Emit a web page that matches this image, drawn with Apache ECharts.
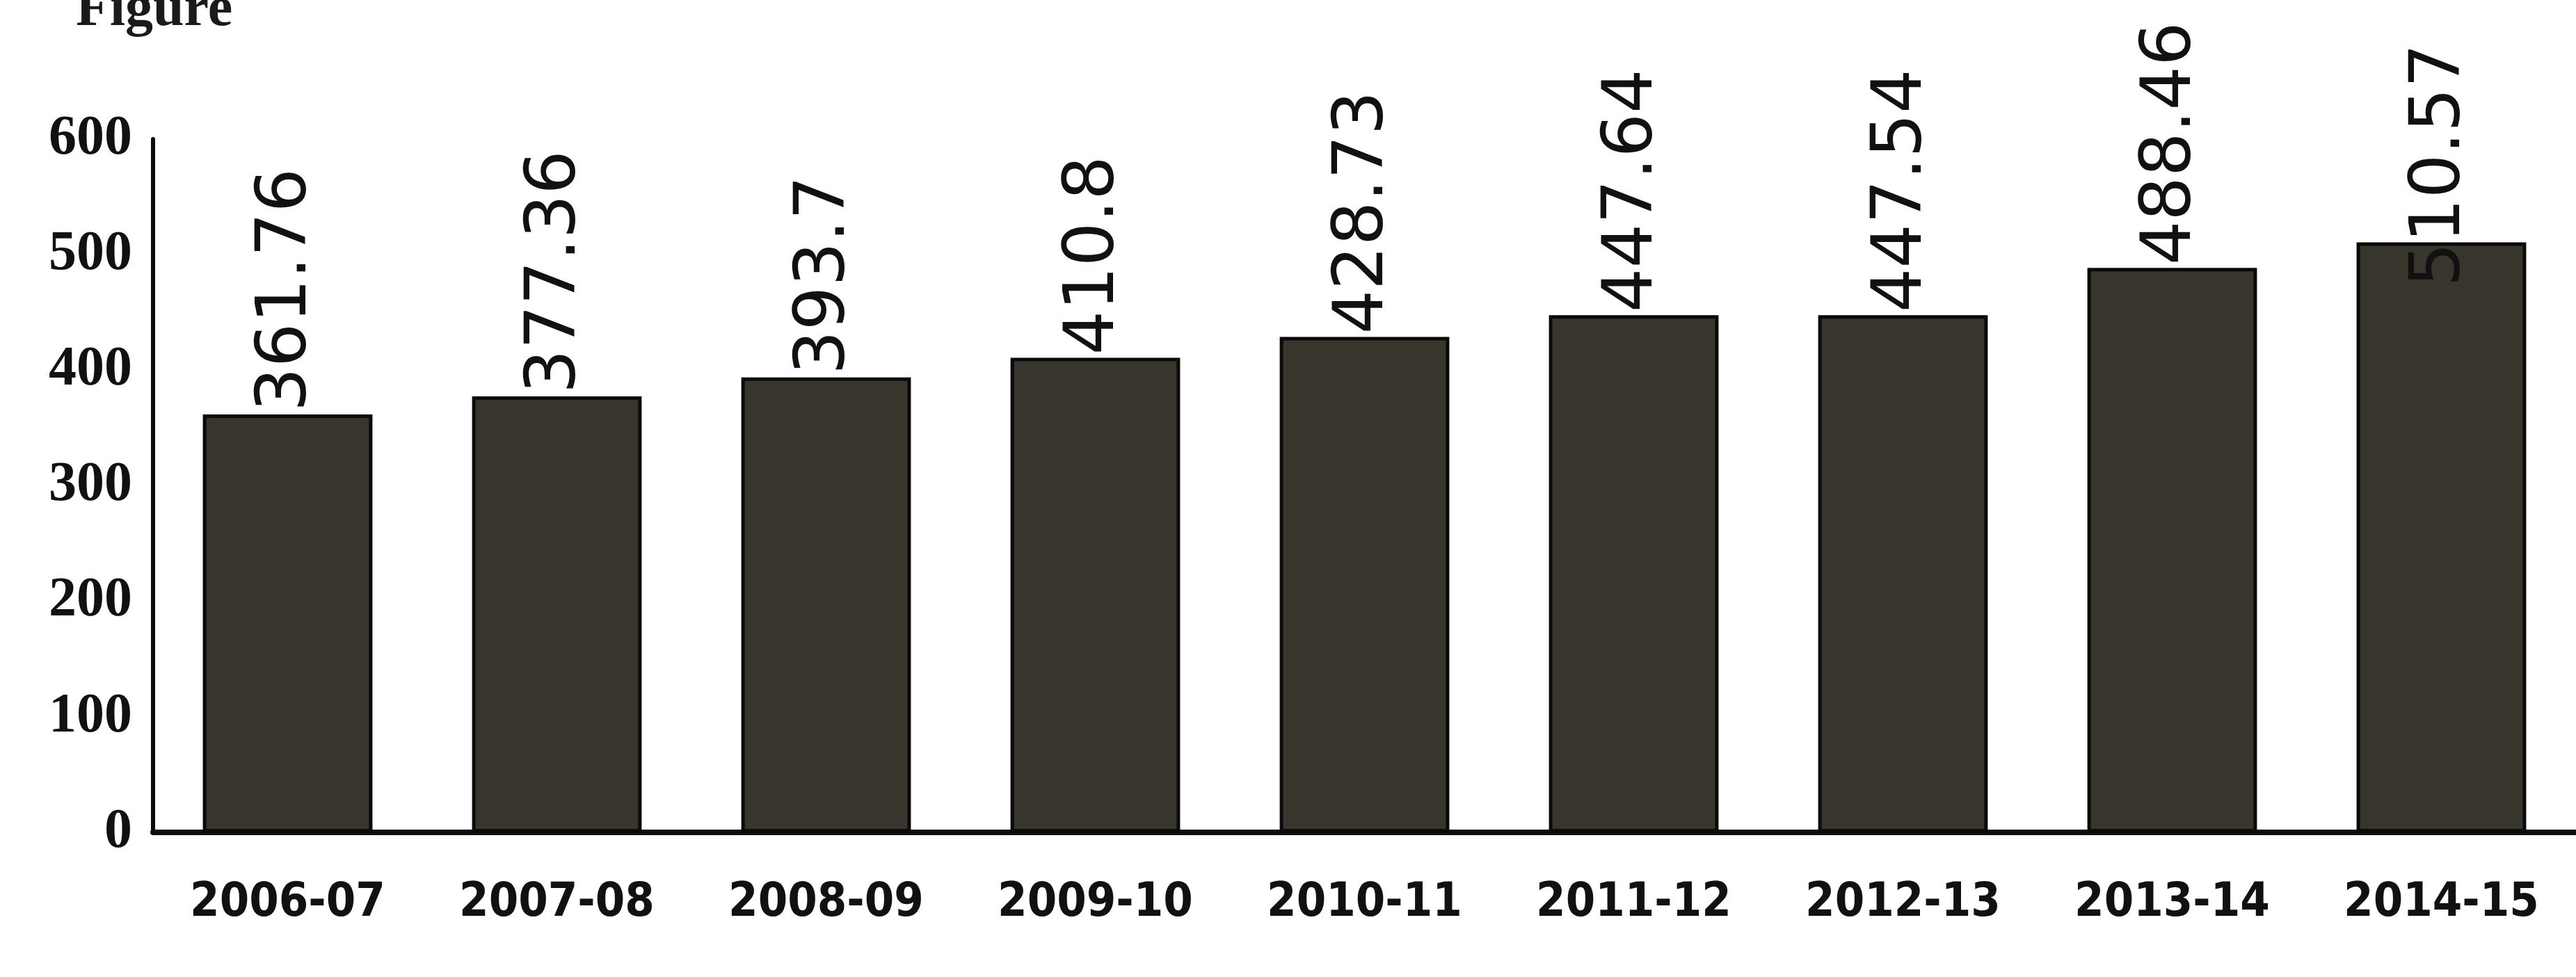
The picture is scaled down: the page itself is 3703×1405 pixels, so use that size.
<!DOCTYPE html>
<html>
<head>
<meta charset="utf-8">
<script src="https://cdn.jsdelivr.net/npm/echarts@6/dist/echarts.min.js"></script>
<style>
  html, body { margin: 0; padding: 0; background: #fff; }
  #chart { width: 3703px; height: 1405px; }
</style>
</head>
<body>
<div id="chart"></div>
<script>
const categories = ['2006-07', '2007-08', '2008-09', '2009-10', '2010-11', '2011-12', '2012-13', '2013-14', '2014-15'];
const values = [361.76, 377.36, 393.7, 410.8, 428.73, 447.64, 447.54, 488.46, 510.57];
const yMin = 0;
const yMax = 600;
const yStep = 100;

const chart = echarts.init(document.getElementById('chart'), null, { renderer: 'canvas' });

// the last label in the scan sits partly inside its bar
const barData = values.map((v, i) =>
  i === values.length - 1 ? { value: v, label: { distance: -64 } } : v
);

chart.setOption({
  backgroundColor: '#ffffff',
  animation: false,
  title: {
    text: 'Figure',
    left: 104,
    top: -30,
    textStyle: { fontFamily: 'Liberation Serif', fontWeight: 'bold', fontSize: 80, color: '#1a1a1a' }
  },
  grid: { left: 220, right: 0, top: 200, bottom: 208, containLabel: false },
  xAxis: {
    type: 'category',
    data: categories,
    axisLine: { lineStyle: { color: '#0d0d0d', width: 8 } },
    axisTick: { show: false },
    axisLabel: {
      margin: 68,
      fontFamily: 'DejaVu Sans Condensed',
      fontWeight: 'bold',
      fontSize: 68,
      color: '#111'
    }
  },
  yAxis: {
    type: 'value',
    min: yMin,
    max: yMax,
    interval: yStep,
    axisLine: { show: true, lineStyle: { color: '#0d0d0d', width: 6 } },
    axisTick: { show: false },
    splitLine: { show: false },
    axisLabel: {
      margin: 30,
      fontFamily: 'Liberation Serif',
      fontWeight: 'bold',
      fontSize: 80,
      color: '#111'
    }
  },
  series: [{
    type: 'bar',
    data: barData,
    barCategoryGap: '37%',
    itemStyle: { color: '#38352d', borderColor: '#0a0a0a', borderWidth: 5 },
    label: {
      show: true,
      position: 'top',
      rotate: 90,
      align: 'left',
      verticalAlign: 'middle',
      distance: 4,
      fontFamily: 'DejaVu Sans',
      fontSize: 100,
      color: '#111',
      formatter: '{c}'
    }
  }]
});
</script>
</body>
</html>
